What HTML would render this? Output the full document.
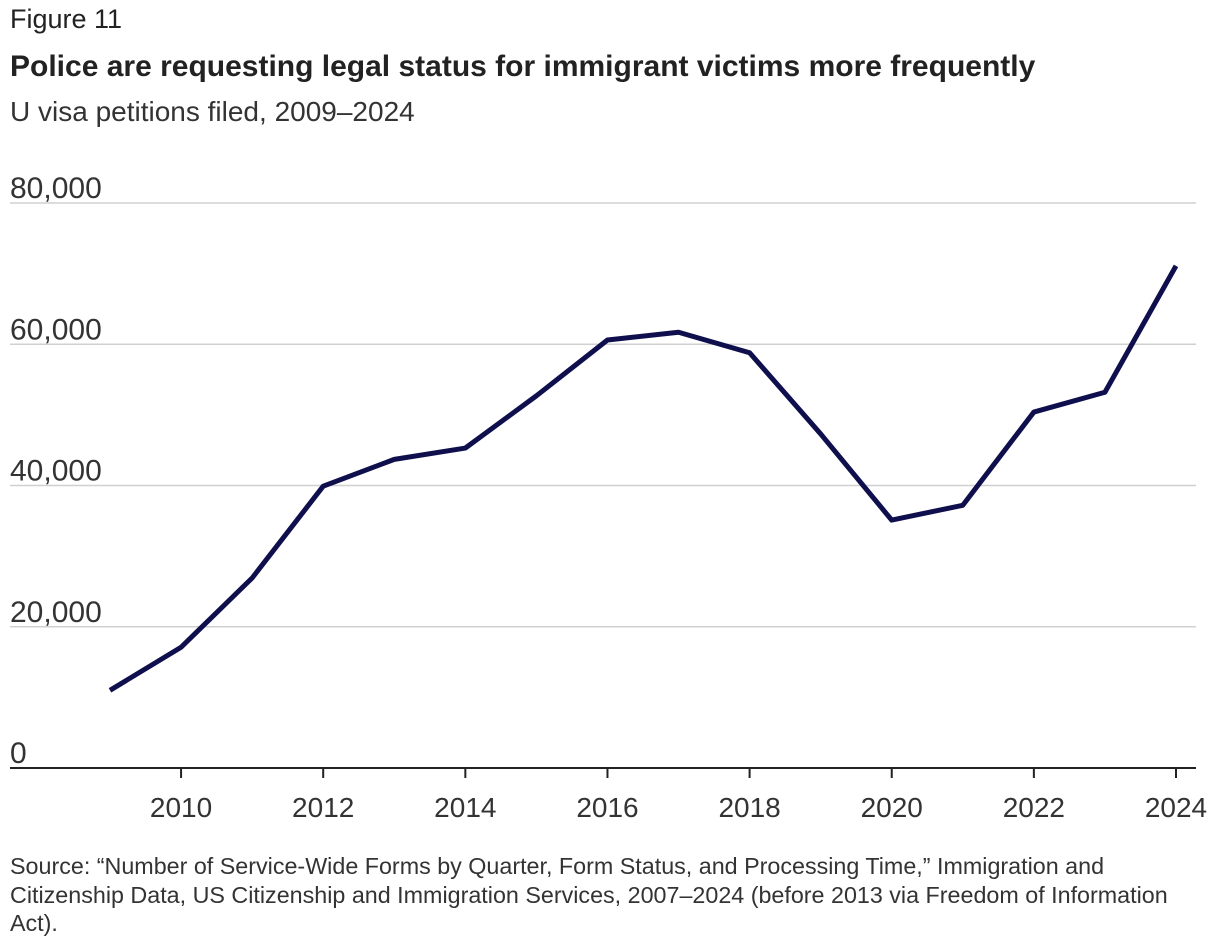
<!DOCTYPE html>
<html><head><meta charset="utf-8">
<style>
html,body{margin:0;padding:0;background:#fff;width:1220px;height:952px;overflow:hidden}
body{font-family:"Liberation Sans",sans-serif;color:#222;position:relative}
.t{position:absolute;white-space:nowrap}
</style></head><body>
<div class="t" style="left:10px;top:4px;font-size:27px">Figure 11</div>
<div class="t" style="left:10px;top:50px;font-size:30px;font-weight:bold">Police are requesting legal status for immigrant victims more frequently</div>
<div class="t" style="left:10px;top:96px;font-size:28px;color:#333">U visa petitions filed, 2009–2024</div>
<svg id="chart" width="1220" height="850" style="position:absolute;left:0;top:0"></svg>
<div class="t" style="left:10px;top:852px;font-size:23.3px;line-height:28.5px;color:#333">Source: “Number of Service-Wide Forms by Quarter, Form Status, and Processing Time,” Immigration and<br>Citizenship Data, US Citizenship and Immigration Services, 2007–2024 (before 2013 via Freedom of Information<br>Act).</div>
<script>
const years=[2009,2010,2011,2012,2013,2014,2015,2016,2017,2018,2019,2020,2021,2022,2023,2024];
const petitions=[11000,17100,26900,39900,43700,45300,52700,60600,61700,58800,47300,35100,37200,50400,53200,71100];
const yTicks=[0,20000,40000,60000,80000];
const xTicks=[2010,2012,2014,2016,2018,2020,2022,2024];
const NS="http://www.w3.org/2000/svg";
const svg=document.getElementById('chart');
const x=v=>110+(v-2009)*(1176-110)/15;
const y=v=>768-v*(768-203)/80000;
function mk(tag,attrs){const e=document.createElementNS(NS,tag);for(const k in attrs)e.setAttribute(k,attrs[k]);svg.appendChild(e);return e;}
yTicks.forEach(t=>{
  if(t>0){const g=mk('line',{x1:10,x2:1196,y1:y(t),y2:y(t),stroke:'#d0d0d0','stroke-width':1.5});
  
  }
  const l=mk('text',{x:10,y:y(t)-5,'font-size':30,fill:'#333','font-family':'Liberation Sans, sans-serif'});
  l.textContent=t.toLocaleString('en-US');
  
  
});
const ax=mk('line',{x1:10,x2:1196,y1:768,y2:768,stroke:'#222','stroke-width':2});


xTicks.forEach(t=>{
  const tk=mk('line',{x1:x(t),x2:x(t),y1:769,y2:778,stroke:'#222','stroke-width':2});
  
  
  const l=mk('text',{x:x(t),y:817,'font-size':28,fill:'#333','text-anchor':'middle','font-family':'Liberation Sans, sans-serif'});
  l.textContent=t;
  
  
});
const p=mk('polyline',{points:years.map((yr,i)=>x(yr)+','+y(petitions[i])).join(' '),fill:'none',stroke:'#0f0f4d','stroke-width':5,'stroke-linejoin':'round','stroke-linecap':'butt'});


</script>
</body></html>
